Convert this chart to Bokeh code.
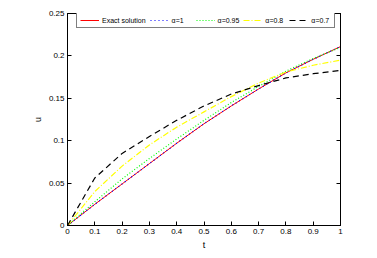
from bokeh.plotting import figure
from bokeh.models import LinearAxis, FixedTicker, Legend, LegendItem
from bokeh.embed import file_html
from bokeh.resources import INLINE

t = [0.0, 0.1, 0.2, 0.3, 0.4, 0.5, 0.6, 0.7, 0.8, 0.9, 1.0]
exact = [0.0, 0.025, 0.049, 0.073, 0.097, 0.120, 0.141, 0.161, 0.180, 0.196, 0.211]
alpha_1 = [0.0, 0.025, 0.049, 0.073, 0.097, 0.120, 0.141, 0.161, 0.180, 0.196, 0.211]
alpha_095 = [0.0, 0.028, 0.055, 0.079, 0.102, 0.124, 0.145, 0.164, 0.182, 0.197, 0.210]
alpha_08 = [0.0, 0.040, 0.070, 0.095, 0.116, 0.134, 0.152, 0.168, 0.181, 0.189, 0.195]
alpha_07 = [0.0, 0.056, 0.085, 0.105, 0.124, 0.141, 0.155, 0.165, 0.174, 0.179, 0.183]

x_ticks = [0, 0.1, 0.2, 0.3, 0.4, 0.5, 0.6, 0.7, 0.8, 0.9, 1]
x_tick_labels = ["0", "0.1", "0.2", "0.3", "0.4", "0.5", "0.6", "0.7", "0.8", "0.9", "1"]
y_ticks = [0, 0.05, 0.1, 0.15, 0.2, 0.25]
y_tick_labels = ["0", "0.05", "0.1", "0.15", "0.2", "0.25"]

FONT = "Liberation Sans"

p = figure(width=369, height=252, x_range=(0, 1), y_range=(0, 0.25),
           output_backend="svg", toolbar_location=None,
           min_border_left=67, min_border_right=29, min_border_top=13, min_border_bottom=25)
p.xgrid.visible = False
p.ygrid.visible = False
p.outline_line_color = "black"
p.outline_line_width = 1
p.background_fill_color = "white"
p.border_fill_color = "white"


def style(ax, ticks, labels, show_labels=True):
    ax.ticker = FixedTicker(ticks=ticks)
    if show_labels:
        ax.major_label_overrides = {tk: lb for tk, lb in zip(ticks, labels)}
    else:
        ax.major_label_overrides = {tk: "" for tk in ticks}
    ax.major_tick_in = 4
    ax.major_tick_out = 0
    ax.minor_tick_line_color = None
    ax.axis_line_color = "black"
    ax.major_tick_line_color = "black"
    ax.major_label_text_font = FONT
    ax.major_label_text_color = "black"
    ax.major_label_text_font_size = "8px"
    ax.major_label_standoff = 3 if show_labels else 0
    ax.axis_label_text_font = FONT
    ax.axis_label_text_color = "black"
    ax.axis_label_text_font_size = "9px"
    ax.axis_label_text_font_style = "normal"
    ax.axis_label_standoff = 3


style(p.xaxis[0], x_ticks, x_tick_labels)
style(p.yaxis[0], y_ticks, y_tick_labels)
p.xaxis[0].axis_label = "t"
p.yaxis[0].axis_label = "u"

top = LinearAxis()
style(top, x_ticks, x_tick_labels, show_labels=False)
p.add_layout(top, "above")
right = LinearAxis()
style(right, y_ticks, y_tick_labels, show_labels=False)
p.add_layout(right, "right")

r0 = p.line(t, exact, line_color="#ff0000", line_width=1)
r1 = p.line(t, alpha_1, line_color="#0000ff", line_width=1.2, line_dash="1 3")
r2 = p.line(t, alpha_095, line_color="#00ff00", line_width=1.2, line_dash="1 2")
r3 = p.line(t, alpha_08, line_color="#ffff00", line_width=1.2, line_dash="6 2 1 2")
r4 = p.line(t, alpha_07, line_color="#000000", line_width=1.2, line_dash="6 4")

legend = Legend(items=[
    LegendItem(label="Exact solution", renderers=[r0]),
    LegendItem(label="α=1", renderers=[r1]),
    LegendItem(label="α=0.95", renderers=[r2]),
    LegendItem(label="α=0.8", renderers=[r3]),
    LegendItem(label="α=0.7", renderers=[r4]),
], location=(9, 197), orientation="horizontal")
legend.padding = 3
legend.spacing = 4
legend.margin = 0
legend.label_standoff = 3
legend.glyph_width = 19
legend.glyph_height = 8
legend.label_height = 8
legend.label_text_font = FONT
legend.label_text_font_size = "7px"
legend.label_text_color = "black"
legend.border_line_color = "black"
legend.border_line_width = 1
legend.background_fill_alpha = 1
p.add_layout(legend)

open("out.html", "w").write(file_html(p, INLINE))
